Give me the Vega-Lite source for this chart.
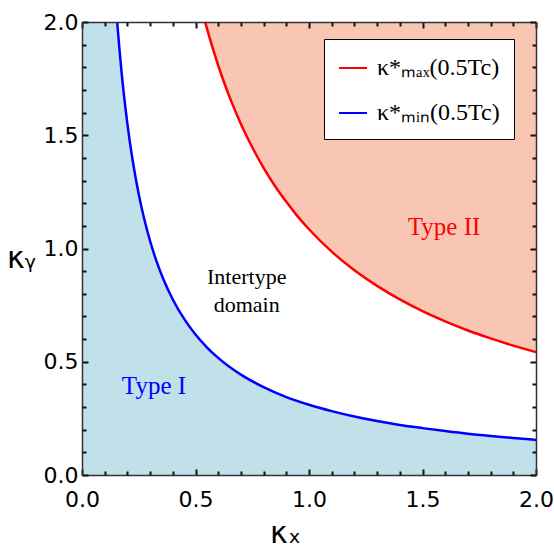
{
  "$schema": "https://vega.github.io/schema/vega-lite/v6.json",
  "width": 454,
  "height": 453,
  "autosize": "none",
  "padding": {"left": 82, "top": 22, "right": 18, "bottom": 73},
  "config": {"view": {"stroke": null}, "font": "DejaVu Sans"},
  "datasets": {
    "curves": [
      {"series": "edge", "x": 0, "y": 2},
      {"series": "min", "x": 0.155, "y": 2.0},
      {"series": "min", "x": 0.165, "y": 1.879},
      {"series": "min", "x": 0.175, "y": 1.771},
      {"series": "min", "x": 0.19, "y": 1.632},
      {"series": "min", "x": 0.21, "y": 1.476},
      {"series": "min", "x": 0.23, "y": 1.348},
      {"series": "min", "x": 0.25, "y": 1.24},
      {"series": "min", "x": 0.275, "y": 1.127},
      {"series": "min", "x": 0.3, "y": 1.033},
      {"series": "min", "x": 0.33, "y": 0.939},
      {"series": "min", "x": 0.36, "y": 0.861},
      {"series": "min", "x": 0.4, "y": 0.775},
      {"series": "min", "x": 0.45, "y": 0.689},
      {"series": "min", "x": 0.5, "y": 0.62},
      {"series": "min", "x": 0.55, "y": 0.564},
      {"series": "min", "x": 0.6, "y": 0.517},
      {"series": "min", "x": 0.7, "y": 0.443},
      {"series": "min", "x": 0.8, "y": 0.388},
      {"series": "min", "x": 0.9, "y": 0.344},
      {"series": "min", "x": 1.0, "y": 0.31},
      {"series": "min", "x": 1.1, "y": 0.282},
      {"series": "min", "x": 1.2, "y": 0.258},
      {"series": "min", "x": 1.3, "y": 0.238},
      {"series": "min", "x": 1.4, "y": 0.221},
      {"series": "min", "x": 1.5, "y": 0.207},
      {"series": "min", "x": 1.6, "y": 0.194},
      {"series": "min", "x": 1.7, "y": 0.182},
      {"series": "min", "x": 1.8, "y": 0.172},
      {"series": "min", "x": 1.9, "y": 0.163},
      {"series": "min", "x": 2.0, "y": 0.155},
      {"series": "max", "x": 0.5425, "y": 2.0},
      {"series": "max", "x": 0.56, "y": 1.938},
      {"series": "max", "x": 0.58, "y": 1.871},
      {"series": "max", "x": 0.6, "y": 1.808},
      {"series": "max", "x": 0.63, "y": 1.722},
      {"series": "max", "x": 0.66, "y": 1.644},
      {"series": "max", "x": 0.7, "y": 1.55},
      {"series": "max", "x": 0.75, "y": 1.447},
      {"series": "max", "x": 0.8, "y": 1.356},
      {"series": "max", "x": 0.85, "y": 1.276},
      {"series": "max", "x": 0.9, "y": 1.206},
      {"series": "max", "x": 0.95, "y": 1.142},
      {"series": "max", "x": 1.0, "y": 1.085},
      {"series": "max", "x": 1.1, "y": 0.986},
      {"series": "max", "x": 1.2, "y": 0.904},
      {"series": "max", "x": 1.3, "y": 0.835},
      {"series": "max", "x": 1.4, "y": 0.775},
      {"series": "max", "x": 1.5, "y": 0.723},
      {"series": "max", "x": 1.6, "y": 0.678},
      {"series": "max", "x": 1.7, "y": 0.638},
      {"series": "max", "x": 1.8, "y": 0.603},
      {"series": "max", "x": 1.9, "y": 0.571},
      {"series": "max", "x": 2.0, "y": 0.5425}
    ]
  },
  "layer": [
    {
      "data": {"name": "curves"},
      "transform": [{"filter": "datum.series == 'min' || datum.series == 'edge'"}],
      "mark": {"type": "area", "color": "#c0e1e9", "interpolate": "monotone"},
      "encoding": {
        "x": {
          "field": "x", "type": "quantitative",
          "scale": {"domain": [0, 2], "nice": false, "zero": false},
          "axis": {
            "orient": "bottom", "zindex": 2,
            "values": [0, 0.5, 1, 1.5, 2], "format": ".1f",
            "tickSize": -6, "tickColor": "#111111", "tickWidth": 2,
            "domainColor": "#333333", "domainWidth": 1.5,
            "labelFont": "DejaVu Sans", "labelFontSize": 22, "labelColor": "black",
            "labelFlush": false, "labelOverlap": false, "labelBound": false, "labelPadding": 20,
            "grid": false,
            "title": "κₓ", "titleFont": "DejaVu Sans", "titleFontSize": 30, "titleFontWeight": "normal", "titleColor": "black",
            "titleX": 203, "titleY": 58, "titleBaseline": "middle", "titleAlign": "center"
          }
        },
        "y": {
          "field": "y", "type": "quantitative",
          "scale": {"domain": [0, 2], "nice": false, "zero": false},
          "axis": {
            "orient": "left", "zindex": 2,
            "values": [0, 0.5, 1, 1.5, 2], "format": ".1f",
            "tickSize": -6, "tickColor": "#111111", "tickWidth": 2,
            "domainColor": "#333333", "domainWidth": 1.5,
            "labelFont": "DejaVu Sans", "labelFontSize": 22, "labelColor": "black",
            "labelFlush": false, "labelOverlap": false, "labelBound": false, "labelPadding": 10,
            "grid": false,
            "title": "κᵧ", "titleFont": "DejaVu Sans", "titleFontSize": 30, "titleFontWeight": "normal", "titleColor": "black",
            "titleAngle": 0, "titleX": -61, "titleY": 236, "titleBaseline": "middle", "titleAlign": "center"
          }
        },
        "y2": {"datum": 0}
      }
    },
    {
      "data": {"name": "curves"},
      "transform": [{"filter": "datum.series == 'max'"}],
      "mark": {"type": "area", "color": "#f9c6b4", "interpolate": "monotone"},
      "encoding": {
        "x": {"field": "x", "type": "quantitative", "axis": null},
        "y": {"field": "y", "type": "quantitative", "axis": null},
        "y2": {"datum": 2}
      }
    },
    {
      "data": {"name": "curves"},
      "transform": [{"filter": "datum.series != 'edge'"}],
      "mark": {"type": "line", "strokeWidth": 2.5, "interpolate": "monotone"},
      "encoding": {
        "x": {"field": "x", "type": "quantitative", "axis": null},
        "y": {"field": "y", "type": "quantitative", "axis": null},
        "color": {
          "field": "series", "type": "nominal",
          "scale": {"domain": ["max", "min"], "range": ["#ff0000", "#0000ff"]},
          "legend": {
            "orient": "none", "legendX": 242, "legendY": 17,
            "title": null,
            "labelExpr": "datum.value == 'max' ? 'κ*ₘₐₓ(0.5Tc)' : 'κ*ₘᵢₙ(0.5Tc)'",
            "symbolType": "stroke", "symbolSize": 784, "symbolStrokeWidth": 2,
            "labelFont": "Liberation Serif", "labelFontSize": 24, "labelColor": "black",
            "labelOffset": 9, "rowPadding": 18,
            "padding": 14, "strokeColor": "black", "fillColor": "white"
          }
        }
      }
    },
    {
      "data": {"values": [{"label": "Intertype\ndomain", "x": 0.7256, "y": 0.873}]},
      "mark": {"type": "text", "font": "Liberation Serif", "fontSize": 22, "color": "black", "lineBreak": "\n", "lineHeight": 28, "align": "center", "baseline": "middle"},
      "encoding": {
        "x": {"field": "x", "type": "quantitative", "axis": null},
        "y": {"field": "y", "type": "quantitative", "axis": null},
        "text": {"field": "label"}
      }
    },
    {
      "data": {"values": [{"label": "Type I", "x": 0.317, "y": 0.395}]},
      "mark": {"type": "text", "font": "Liberation Serif", "fontSize": 25, "color": "#0000ff", "align": "center", "baseline": "middle"},
      "encoding": {
        "x": {"field": "x", "type": "quantitative", "axis": null},
        "y": {"field": "y", "type": "quantitative", "axis": null},
        "text": {"field": "label"}
      }
    },
    {
      "data": {"values": [{"label": "Type II", "x": 1.595, "y": 1.097}]},
      "mark": {"type": "text", "font": "Liberation Serif", "fontSize": 25, "color": "#ff0000", "align": "center", "baseline": "middle"},
      "encoding": {
        "x": {"field": "x", "type": "quantitative", "axis": null},
        "y": {"field": "y", "type": "quantitative", "axis": null},
        "text": {"field": "label"}
      }
    },
    {
      "data": {"name": "curves"},
      "mark": {"type": "point", "opacity": 0},
      "encoding": {
        "x": {
          "field": "x", "type": "quantitative",
          "axis": {
            "orient": "bottom", "zindex": 2, "domain": false,
            "values": [0.1,0.2,0.3,0.4,0.6,0.7,0.8,0.9,1.1,1.2,1.3,1.4,1.6,1.7,1.8,1.9],
            "labels": false, "title": null, "grid": false,
            "tickSize": -4, "tickColor": "#111111", "tickWidth": 2
          }
        },
        "y": {
          "field": "y", "type": "quantitative",
          "axis": {
            "orient": "left", "zindex": 2, "domain": false,
            "values": [0.1,0.2,0.3,0.4,0.6,0.7,0.8,0.9,1.1,1.2,1.3,1.4,1.6,1.7,1.8,1.9],
            "labels": false, "title": null, "grid": false,
            "tickSize": -4, "tickColor": "#111111", "tickWidth": 2
          }
        }
      }
    },
    {
      "data": {"name": "curves"},
      "mark": {"type": "point", "opacity": 0},
      "encoding": {
        "x": {
          "field": "x", "type": "quantitative",
          "axis": {
            "orient": "top", "zindex": 2,
            "values": [0, 0.5, 1, 1.5, 2],
            "labels": false, "title": null, "grid": false,
            "tickSize": -6, "tickColor": "#111111", "tickWidth": 2,
            "domainColor": "#333333", "domainWidth": 1.5
          }
        },
        "y": {
          "field": "y", "type": "quantitative",
          "axis": {
            "orient": "right", "zindex": 2,
            "values": [0, 0.5, 1, 1.5, 2],
            "labels": false, "title": null, "grid": false,
            "tickSize": -6, "tickColor": "#111111", "tickWidth": 2,
            "domainColor": "#333333", "domainWidth": 1.5
          }
        }
      }
    },
    {
      "data": {"name": "curves"},
      "mark": {"type": "point", "opacity": 0},
      "encoding": {
        "x": {
          "field": "x", "type": "quantitative",
          "axis": {
            "orient": "top", "zindex": 2, "domain": false,
            "values": [0.1,0.2,0.3,0.4,0.6,0.7,0.8,0.9,1.1,1.2,1.3,1.4,1.6,1.7,1.8,1.9],
            "labels": false, "title": null, "grid": false,
            "tickSize": -4, "tickColor": "#111111", "tickWidth": 2
          }
        },
        "y": {
          "field": "y", "type": "quantitative",
          "axis": {
            "orient": "right", "zindex": 2, "domain": false,
            "values": [0.1,0.2,0.3,0.4,0.6,0.7,0.8,0.9,1.1,1.2,1.3,1.4,1.6,1.7,1.8,1.9],
            "labels": false, "title": null, "grid": false,
            "tickSize": -4, "tickColor": "#111111", "tickWidth": 2
          }
        }
      }
    }
  ],
  "resolve": {"axis": {"x": "independent", "y": "independent"}}
}
